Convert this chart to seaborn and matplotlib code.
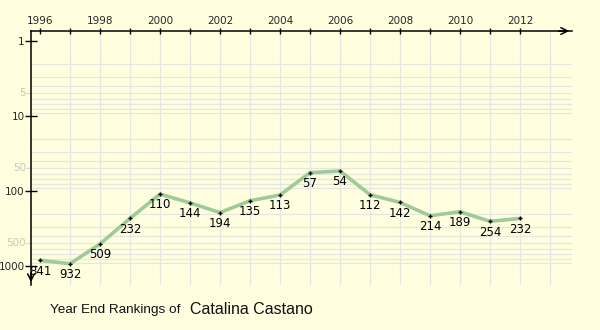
import numpy as np
import pandas as pd
import matplotlib
matplotlib.use("Agg")
import matplotlib.pyplot as plt
import seaborn as sns

# Year-end ranking history
years = [1996, 1997, 1998, 1999, 2000, 2001, 2002, 2003, 2004,
         2005, 2006, 2007, 2008, 2009, 2010, 2011, 2012]
rankings = [841, 932, 509, 232, 110, 144, 194, 135, 113,
            57, 54, 112, 142, 214, 189, 254, 232]
year_labels = [1996, 1998, 2000, 2002, 2004, 2006, 2008, 2010, 2012]
major_ranks = [1, 10, 100, 1000]
minor_ranks = [5, 50, 500]
player = "Catalina Castano"

df = pd.DataFrame({"year": years, "rank": rankings})

sns.set_theme(style="white")
plt.rcParams["font.family"] = ["DejaVu Sans"]

BG = "#FFFFDF"
LINE = "#9FCB97"
GRID = "#E6E6E0"

W, H = 600, 330
fig = plt.figure(figsize=(W / 100, H / 100), dpi=100, facecolor=BG)

# axes box in pixel terms: x 31..572, y 31..285
ax = fig.add_axes([31 / W, 1 - 285 / H, (572 - 31) / W, (285 - 31) / H])
ax.set_facecolor(BG)

# one year = 30 px, 1996 at x=40; one decade = 75 px, rank 1 at y=41
ax.set_xlim(1996 - 9 / 30, 1996 + (572 - 40) / 30)
ax.set_yscale("log")
ax.set_ylim(10 ** (244 / 75), 10 ** (-10 / 75))

# grid: vertical line per year, horizontal lines at 2..9 of each decade
for yr in range(1997, 2014):
    ax.axvline(yr, color=GRID, lw=0.9, zorder=0)
for dec in [1, 10, 100]:
    for m in range(2, 10):
        v = dec * m
        ax.plot([1995.7, 2013.7], [v, v], color=GRID, lw=0.9, zorder=0)

sns.lineplot(data=df, x="year", y="rank", ax=ax, color=LINE, lw=2.6,
             zorder=2, legend=False)
sns.scatterplot(data=df, x="year", y="rank", ax=ax, color="black",
                marker="+", s=12, linewidth=1, zorder=3, legend=False)

for yr, r in zip(years, rankings):
    ax.annotate(str(r), (yr, r), xytext=(0, -3), textcoords="offset points",
                ha="center", va="top", fontsize=8.5, color="black", zorder=4)

# spines: top axis and left axis only
for s in ["right", "bottom"]:
    ax.spines[s].set_visible(False)
for s in ["top", "left"]:
    ax.spines[s].set_color("black")
    ax.spines[s].set_linewidth(1.1)

ax.xaxis.set_ticks_position("top")
ax.xaxis.set_label_position("top")
ax.set_xticks(year_labels)
ax.set_xticks(range(1996, 2013), minor=True)
ax.tick_params(axis="x", which="both", top=True, bottom=False,
               direction="inout", length=5, width=1, color="black",
               labelsize=7.5, pad=1)
ax.set_xticklabels([str(y) for y in year_labels])

ax.set_yticks(major_ranks)
ax.set_yticklabels([str(v) for v in major_ranks])
ax.yaxis.set_minor_locator(matplotlib.ticker.NullLocator())
ax.tick_params(axis="y", which="major", left=True, right=False,
               direction="inout", length=9, width=1, color="black",
               labelsize=7.5, pad=0)
for v in minor_ranks:
    ax.plot([-5 / 541, 0], [v, v], color="#D8D8C8", lw=0.8,
            transform=ax.get_yaxis_transform(), clip_on=False)
    ax.text(-5 / 541, v, str(v), transform=ax.get_yaxis_transform(),
            ha="right", va="center", fontsize=7.5, color="#C8C8B8")

ax.set_xlabel("")
ax.set_ylabel("")

# arrow heads at the ends of the axes
ax.annotate("", xy=(1.0, 1.0), xytext=(0.97, 1.0), xycoords="axes fraction",
            arrowprops=dict(arrowstyle="->", color="black", lw=1.1,
                            mutation_scale=12), annotation_clip=False)
ax.annotate("", xy=(0.0, 0.0), xytext=(0.0, 0.06), xycoords="axes fraction",
            arrowprops=dict(arrowstyle="->", color="black", lw=1.1,
                            mutation_scale=12), annotation_clip=False)

fig.text(50 / W, 1 - 310 / H, "Year End Rankings of", fontsize=9.7,
         family=["Liberation Sans", "DejaVu Sans"],
         color="#111111", va="center", ha="left")
fig.text(190 / W, 1 - 309 / H, player, fontsize=11.5,
         family=["Liberation Sans", "DejaVu Sans"],
         color="#111111", va="center", ha="left")

fig.savefig("out.png", dpi=100, facecolor=BG)
